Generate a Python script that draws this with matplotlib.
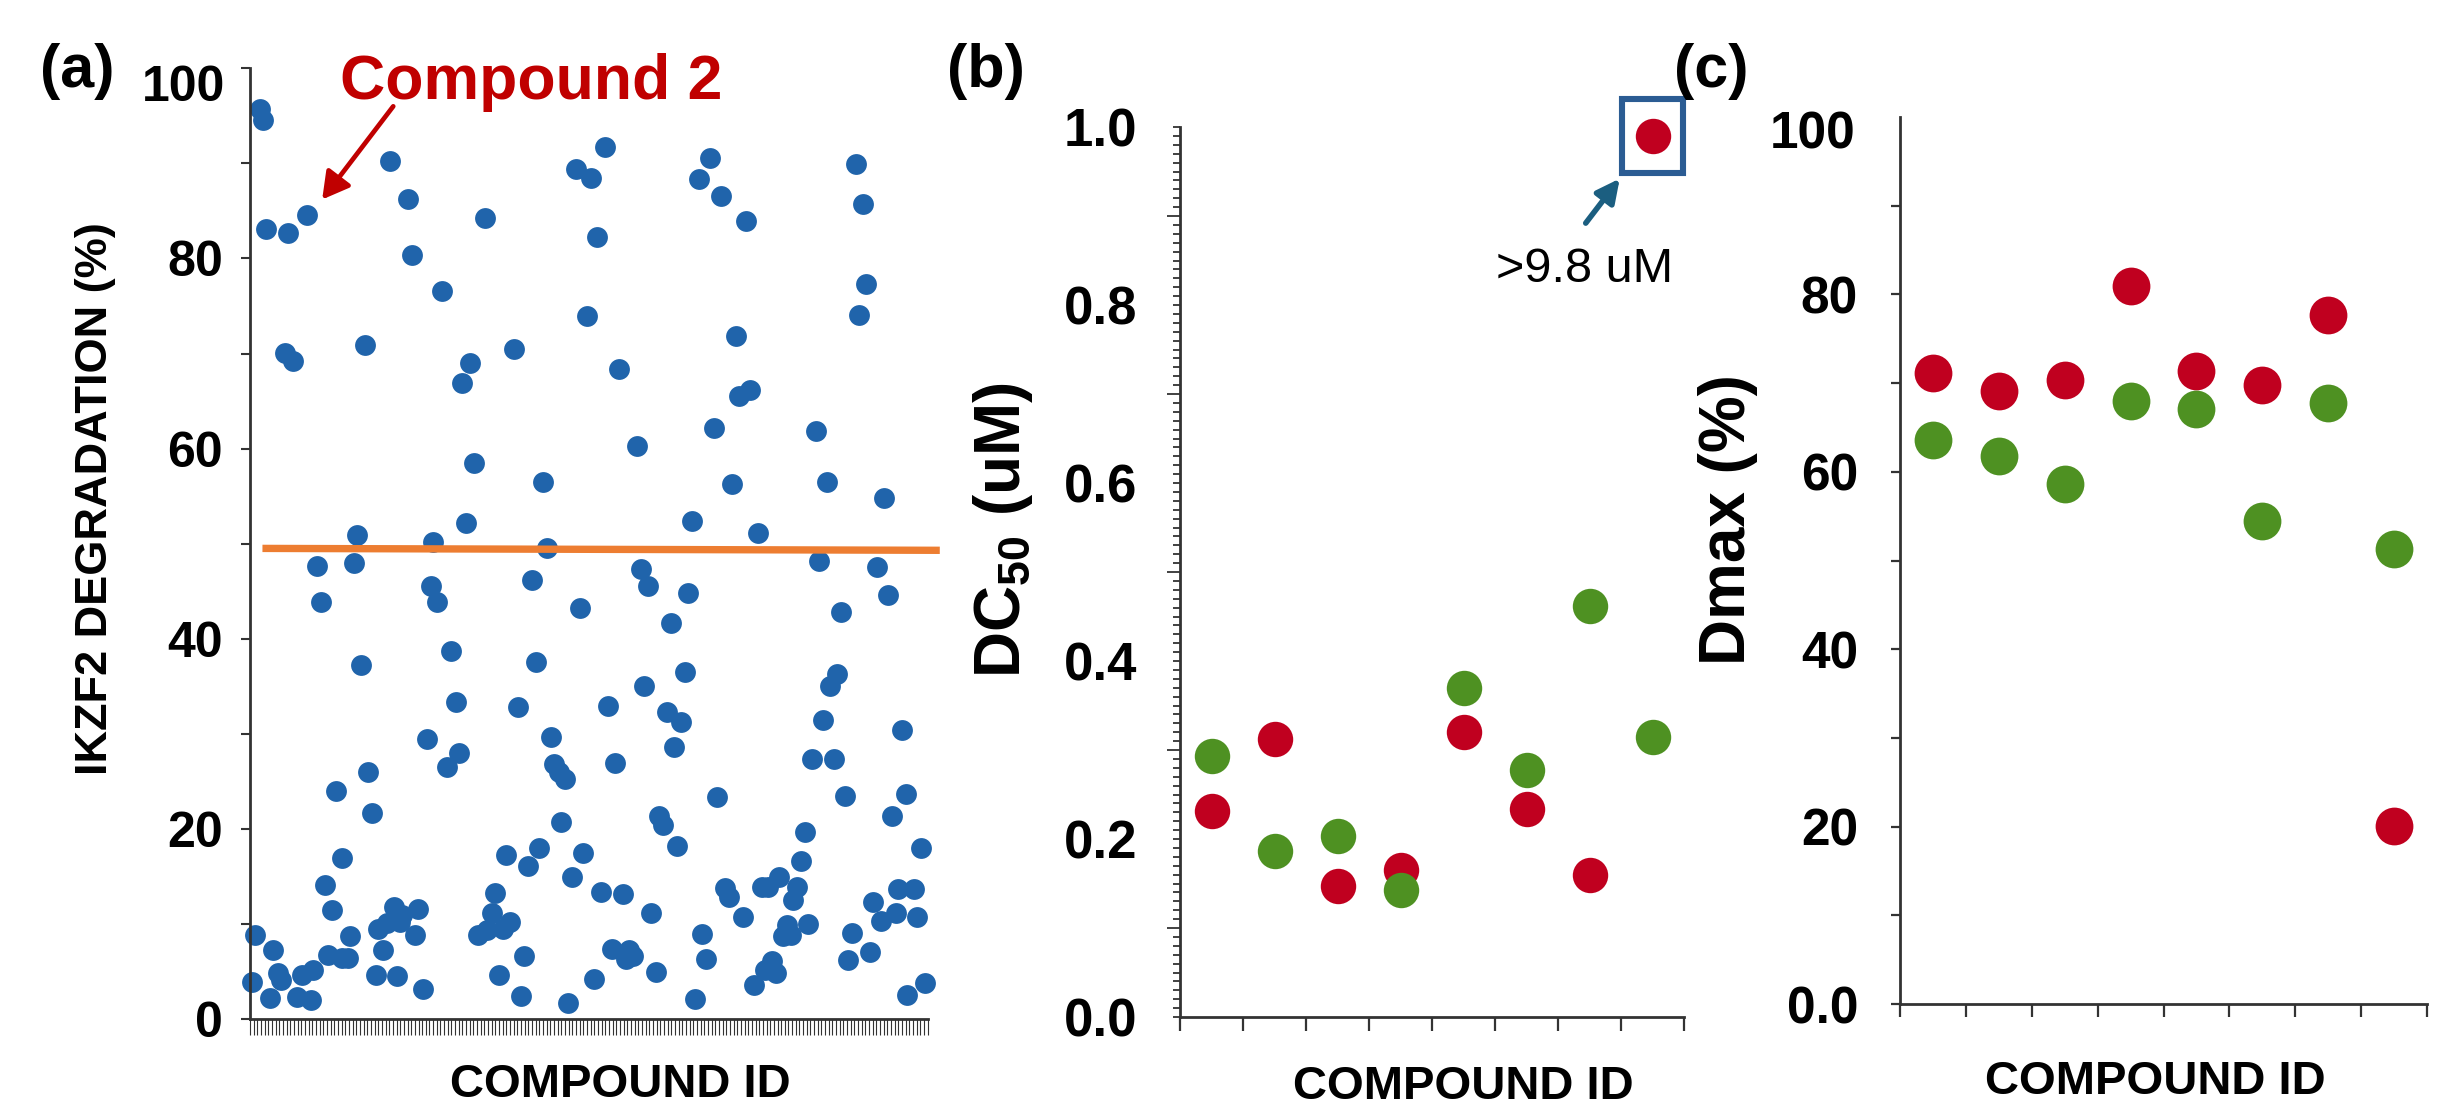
import matplotlib
matplotlib.use("Agg")
import matplotlib.pyplot as plt
from matplotlib.patches import Rectangle
from matplotlib.ticker import MultipleLocator, FuncFormatter

plt.rcParams['font.family'] = ['Liberation Sans', 'DejaVu Sans']
plt.rcParams['font.weight'] = 'bold'
plt.rcParams['mathtext.fontset'] = 'custom'
plt.rcParams['mathtext.rm'] = 'Liberation Sans'
plt.rcParams['mathtext.it'] = 'Liberation Sans:italic'
plt.rcParams['mathtext.bf'] = 'Liberation Sans:bold'

# ---- (a) IKZF2 degradation screen, one point per compound ----
n_cmpds = 185
cmpd_pos = [0.5, 1.4, 2.7, 3.6, 4.4, 5.5, 6.4, 7.7, 8.4, 9.6, 10.5, 11.8, 12.7, 14.1, 15.5, 16.6,
            17.3, 18.4, 19.5, 20.5, 21.4, 22.4, 23.4, 25.0, 25.2, 26.8, 27.4, 28.4, 29.3, 30.2,
            31.4, 32.3, 33.2, 34.3, 35.0, 36.2, 37.3, 38.2, 39.3, 40.2, 40.9, 41.6, 43.2, 44.1,
            45.0, 45.9, 47.1, 48.2, 49.3, 50.0, 51.1, 52.3, 53.7, 55.0, 56.1, 57.1, 57.9, 59.1,
            60.0, 61.2, 62.2, 64.1, 64.6, 66.0, 67.0, 68.0, 69.1, 69.9, 71.0, 72.1, 73.1, 73.9,
            74.9, 76.0, 77.0, 78.1, 79.0, 79.9, 81.0, 82.1, 83.0, 84.3, 84.9, 86.0, 86.7, 87.9,
            88.9, 90.1, 90.8, 91.9, 93.0, 93.9, 94.8, 95.8, 96.9, 97.8, 98.7, 99.7, 100.8, 101.9,
            102.6, 103.4, 104.6, 105.7, 106.6, 107.6, 108.7, 109.6, 110.8, 111.6, 112.8, 113.7,
            114.8, 115.7, 116.6, 117.6, 118.7, 119.6, 120.6, 121.6, 122.6, 123.4, 124.5, 125.5,
            126.7, 127.5, 128.5, 129.6, 130.7, 131.5, 132.6, 133.5, 134.5, 135.4, 136.5, 137.6,
            138.6, 139.7, 140.6, 141.5, 142.4, 143.6, 144.4, 145.6, 146.5, 147.8, 148.3, 149.4,
            150.5, 151.5, 152.4, 153.3, 154.4, 155.4, 156.3, 157.4, 158.3, 159.4, 160.3, 161.3,
            162.4, 163.3, 164.2, 165.3, 166.3, 167.4, 168.1, 169.2, 170.1, 171.2, 172.2, 173.1,
            174.2, 175.3, 176.3, 176.9, 178.1, 179.2, 179.3, 181.2, 182.1, 183.3, 184.2]
degradation = [3.9, 8.8, 95.7, 94.6, 83.1, 2.2, 7.3, 4.8, 4.1, 70.1, 82.7, 69.2, 2.3, 4.6, 84.6, 2.0,
               5.2, 47.6, 43.9, 14.1, 6.7, 11.5, 24.0, 6.4, 16.9, 6.4, 8.7, 48.0, 50.9, 37.2,
               70.9, 26.0, 21.7, 4.6, 9.5, 7.3, 10.1, 90.2, 11.8, 4.5, 10.2, 10.9, 86.2, 80.4,
               8.8, 11.6, 3.2, 29.5, 45.5, 50.2, 43.9, 76.6, 26.5, 38.7, 33.3, 28.0, 66.9, 52.2,
               69.0, 58.5, 8.8, 84.3, 9.4, 11.1, 13.3, 4.6, 9.5, 17.3, 10.2, 70.5, 32.8, 2.4,
               6.6, 16.1, 46.2, 37.5, 18.0, 56.5, 49.5, 29.7, 26.8, 26.0, 20.7, 25.2, 1.7, 14.9,
               89.4, 43.2, 17.5, 73.9, 88.5, 4.2, 82.3, 13.4, 91.7, 32.9, 7.4, 26.9, 68.4, 13.2,
               6.3, 7.3, 6.6, 60.3, 47.3, 35.0, 45.5, 11.1, 4.9, 21.4, 20.4, 32.3,
               41.7, 28.6, 18.2, 31.2, 36.5, 44.8, 52.4, 2.1, 88.4, 8.9, 6.3, 90.6,
               62.2, 23.4, 86.6, 13.8, 12.8, 56.3, 71.8, 65.5, 10.7, 83.9, 66.2, 3.6,
               51.1, 13.9, 5.2, 13.9, 6.1, 4.8, 14.9, 8.7, 9.9, 8.8, 12.5, 13.9,
               16.6, 19.7, 10.0, 27.4, 61.8, 48.2, 31.5, 56.5, 35.0, 27.4, 36.3, 42.8,
               23.5, 6.2, 9.0, 89.9, 74.1, 85.7, 77.3, 7.0, 12.3, 47.5, 10.3, 54.8,
               44.6, 21.4, 11.1, 13.7, 30.4, 23.7, 2.5, 13.7, 10.7, 18.0, 3.8]
cutoff_x = [3.4, 188.3]
cutoff_y = [49.5, 49.3]

# ---- (b)/(c) selected compounds, two series each ----
sel_pos = [0.5, 1.5, 2.5, 3.5, 4.5, 5.5, 6.5, 7.5]
dc50_red = [0.232, 0.312, 0.147, 0.165, 0.320, 0.234, 0.159, 0.99]   # last one is >9.8 uM
dc50_green = [0.293, 0.186, 0.203, 0.143, 0.370, 0.278, 0.462, 0.315]
dmax_red = [71.1, 69.1, 70.3, 81.0, 71.4, 69.8, 77.7, 20.1]
dmax_green = [63.6, 61.8, 58.6, 68.0, 67.1, 54.4, 67.8, 51.3]

BLUE = '#2064ab'
RED = '#c0001f'
GREEN = '#4e9122'
ORANGE = '#ed7d31'
AXCOL = '#333333'

fig = plt.figure(figsize=(24.5, 11.07), dpi=100)
W, H = 2450, 1107


def frac(x0, y0, x1, y1):
    return [x0 / W, 1 - y1 / H, (x1 - x0) / W, (y1 - y0) / H]


def style(ax):
    for s in ['top', 'right']:
        ax.spines[s].set_visible(False)
    for s in ['left', 'bottom']:
        ax.spines[s].set_linewidth(2)
        ax.spines[s].set_color(AXCOL)
    ax.set_facecolor('none')


# ---------------- (a) ----------------
ax1 = fig.add_axes(frac(250, 68.3, 927.7, 1019))
style(ax1)
ax1.scatter(cmpd_pos, degradation, s=225, color=BLUE, linewidths=0, zorder=2, clip_on=False)
ax1.plot(cutoff_x, cutoff_y, color=ORANGE, lw=5.3, zorder=3, clip_on=False, solid_capstyle='butt')
ax1.set_xlim(0, n_cmpds)
ax1.set_ylim(0, 100)
ax1.xaxis.set_major_locator(MultipleLocator(1))
ax1.tick_params(axis='x', length=11.5, width=0.8, color=AXCOL, labelbottom=False)
ax1.yaxis.set_major_locator(MultipleLocator(20))
ax1.yaxis.set_minor_locator(MultipleLocator(10))
ax1.yaxis.set_major_formatter(FuncFormatter(lambda v, _: '' if round(v) == 100 else f"{v:.0f}"))
ax1.tick_params(axis='y', which='both', length=6.5, width=1.5, color=AXCOL, pad=13, labelsize=36)
# top label sits a little below its tick in the original
ax1.text(-0.037, 97.9, '100', transform=ax1.get_yaxis_transform(), fontsize=36,
         ha='right', va='center')
ax1.annotate('', xy=(19.7, 86.2), xytext=(39.1, 96.0), annotation_clip=False,
             arrowprops=dict(arrowstyle='-|>,head_length=0.8,head_width=0.45', color='#c00000',
                             lw=3.4, mutation_scale=20, shrinkA=0, shrinkB=0))
fig.text(340 / W, 1 - 99 / H, 'Compound 2', color='#c00000', fontsize=45,
         ha='left', va='baseline')
fig.text(95.5 / W, 1 - 499 / H, 'IKZF2 DEGRADATION (%)', rotation=90, fontsize=32.5,
         ha='center', va='center')
fig.text(620 / W, 1 - 1097 / H, 'COMPOUND ID', fontsize=34, ha='center', va='baseline')

# ---------------- (b) ----------------
ax2 = fig.add_axes(frac(1180, 127, 1684, 1017))
style(ax2)
ax2.scatter(sel_pos, dc50_red, s=650, color=RED, linewidths=0, zorder=2, clip_on=False)
ax2.scatter(sel_pos, dc50_green, s=650, color=GREEN, linewidths=0, zorder=3, clip_on=False)
ax2.set_xlim(0, 8)
ax2.set_ylim(0, 1.0)
ax2.xaxis.set_major_locator(MultipleLocator(1))
ax2.tick_params(axis='x', length=10, width=1.6, color=AXCOL, labelbottom=False)
ax2.yaxis.set_major_locator(MultipleLocator(0.1))
ax2.yaxis.set_minor_locator(MultipleLocator(0.01))
ax2.yaxis.set_major_formatter(FuncFormatter(
    lambda v, _: f"{v:.1f}" if round(v * 10) % 2 == 0 else ""))
ax2.tick_params(axis='y', which='minor', length=5, width=1.3, color=AXCOL)
ax2.tick_params(axis='y', which='major', length=5, width=1.3, color=AXCOL, pad=26, labelsize=38)
for t, loc in zip(ax2.yaxis.get_major_ticks(), ax2.yaxis.get_majorticklocs()):
    if round(loc * 10) % 2 == 1:
        t.tick1line.set_markersize(9.5)

# box + arrow around the out-of-range point
bx, by = sel_pos[-1], dc50_red[-1]
ax2.add_patch(Rectangle((bx - 0.485, by - 0.042), 0.97, 0.084, fill=False,
                        ec='#2b5c93', lw=4.4, clip_on=False, zorder=4))
ax2.annotate('', xy=(6.98, 0.942), xytext=(6.44, 0.892), annotation_clip=False,
             arrowprops=dict(arrowstyle='-|>,head_length=0.7,head_width=0.35', color='#1b5e80',
                             lw=4, mutation_scale=20, shrinkA=0, shrinkB=0))
ax2.text(6.42, 0.826, '>9.8 uM', fontsize=35, fontweight='normal', ha='center', va='baseline')
fig.text(1003 / W, 1 - 530 / H, r'DC$_{50}$ (uM)', rotation=90, fontsize=46,
         ha='center', va='center')
fig.text(1463 / W, 1 - 1099 / H, 'COMPOUND ID', fontsize=34, ha='center', va='baseline')

# ---------------- (c) ----------------
ax3 = fig.add_axes(frac(1900, 117, 2427, 1004))
style(ax3)
ax3.scatter(sel_pos, dmax_red, s=740, color=RED, linewidths=0, zorder=2, clip_on=False)
ax3.scatter(sel_pos, dmax_green, s=740, color=GREEN, linewidths=0, zorder=3, clip_on=False)
ax3.set_xlim(0, 8)
ax3.set_ylim(0, 100)
ax3.xaxis.set_major_locator(MultipleLocator(1))
ax3.tick_params(axis='x', length=9.5, width=1.6, color=AXCOL, labelbottom=False)
ax3.yaxis.set_major_locator(MultipleLocator(10))
dmax_labels = {0: '0.0', 20: '20', 40: '40', 60: '60', 80: '80'}
ax3.yaxis.set_major_formatter(FuncFormatter(lambda v, _: dmax_labels.get(int(round(v)), '')))
ax3.tick_params(axis='y', length=6.2, width=1.6, color=AXCOL, pad=24, labelsize=37)
for t, loc in zip(ax3.yaxis.get_major_ticks(), ax3.yaxis.get_majorticklocs()):
    if round(loc) == 100:
        t.tick1line.set_markersize(0)
ax3.text(-0.085, 98.0, '100', transform=ax3.get_yaxis_transform(), fontsize=37,
         ha='right', va='center')
fig.text(1728 / W, 1 - 520 / H, 'Dmax (%)', rotation=90, fontsize=46,
         ha='center', va='center')
fig.text(2155 / W, 1 - 1104 / H, 'COMPOUND ID', fontsize=34, ha='center', va='bottom')

# panel letters
for px, lab in [(77, '(a)'), (986, '(b)'), (1711, '(c)')]:
    fig.text(px / W, 1 - 72 / H, lab, fontsize=44, ha='center', va='center')

fig.savefig('out.png', dpi=100, facecolor='white')
